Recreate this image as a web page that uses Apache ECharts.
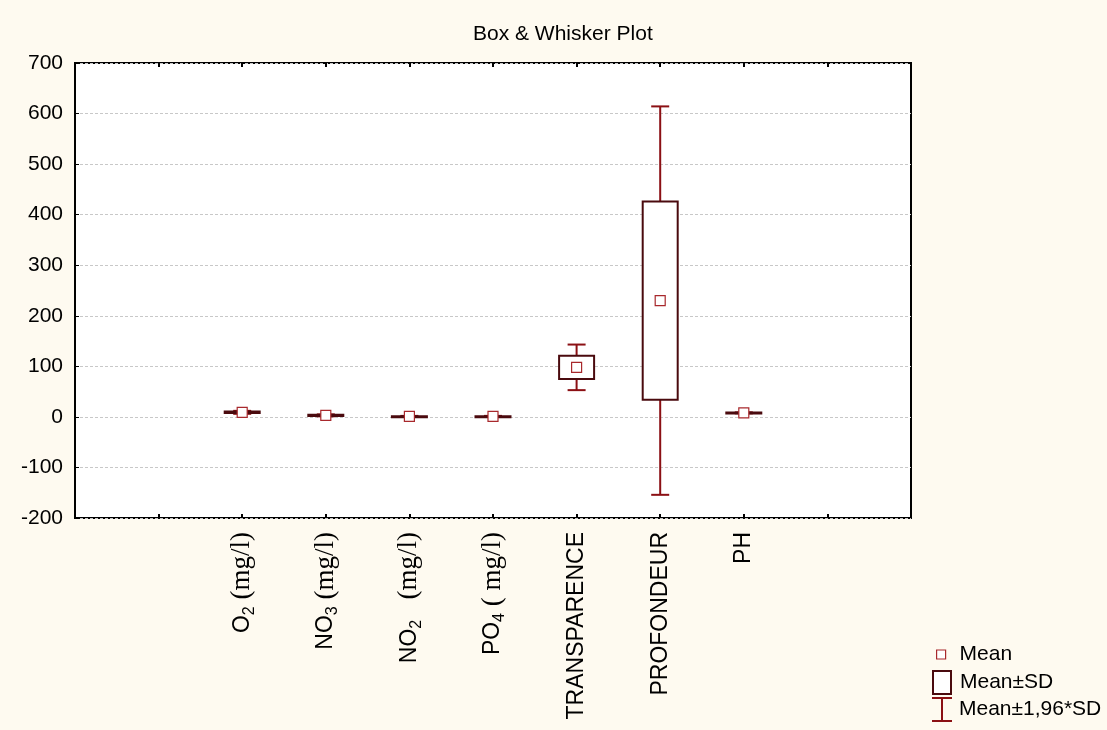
<!DOCTYPE html>
<html>
<head>
<meta charset="utf-8">
<title>Box & Whisker Plot</title>
<script src="https://cdn.jsdelivr.net/npm/echarts@6/dist/echarts.min.js"></script>
<style>
  html, body { margin: 0; padding: 0; background: #fefaf0; }
</style>
</head>
<body>
<div id="BoxWhisker" style="width: 1107px; height: 730px;"></div>
<script>
// variables, placed on the x axis at positions 2..8 (axis runs 0..10)
const positions = [2, 3, 4, 5, 6, 7, 8];
const xLabels = [
    '{m|O}{s|2}{t| (mg/l)}',
    '{m|NO}{s|3}{t| (mg/l)}',
    '{m|NO}{s|2}{t|   (mg/l)}',
    '{m|PO}{s|4}{t| ( mg/l)}',
    '{m|TRANSPARENCE}',
    '{m|PROFONDEUR}',
    '{m|PH}'
];
const means = [9, 3, 1, 1, 98, 230, 8];
const sds = [1.5, 1, 0.5, 0.5, 23, 196, 0.5];
const yMin = -200;
const yMax = 700;
const yStep = 100;
const k = 1.96;

const boxColor = '#4a0a0e';
const whiskerColor = '#8b1014';
const meanColor = '#a8282c';

const rows = positions.map((x, i) => [x, means[i], sds[i]]);

function renderWhisker(params, api) {
    const x = api.value(0), m = api.value(1), sd = api.value(2);
    const top = api.coord([x, m + k * sd]);
    const bot = api.coord([x, m - k * sd]);
    const hw = 9;
    const style = { stroke: whiskerColor, lineWidth: 2 };
    return {
        type: 'group',
        children: [
            { type: 'line', shape: { x1: top[0], y1: top[1], x2: bot[0], y2: bot[1] }, style: style },
            { type: 'line', shape: { x1: top[0] - hw, y1: top[1], x2: top[0] + hw, y2: top[1] }, style: style },
            { type: 'line', shape: { x1: bot[0] - hw, y1: bot[1], x2: bot[0] + hw, y2: bot[1] }, style: style }
        ]
    };
}

function renderBox(params, api) {
    const x = api.value(0), m = api.value(1), sd = api.value(2);
    const top = api.coord([x, m + sd]);
    const bot = api.coord([x, m - sd]);
    const w = 35;
    return {
        type: 'rect',
        shape: { x: top[0] - w / 2, y: top[1], width: w, height: Math.max(bot[1] - top[1], 1) },
        style: { fill: '#fff', stroke: boxColor, lineWidth: 2 }
    };
}

const whiskerIcon = 'path://M0,0H20V2H11V23H20V25H0V23H9V2H0Z';
const legendText = { fontFamily: 'Liberation Sans', fontSize: 21, color: '#000' };

const option = {
    backgroundColor: '#fefaf0',
    animation: false,
    title: {
        text: 'Box & Whisker Plot',
        left: 468,
        top: 19,
        textStyle: { fontFamily: 'Liberation Sans', fontSize: 21, fontWeight: 'normal', color: '#000' }
    },
    grid: {
        left: 75, right: 196, top: 63, bottom: 212,
        show: true, backgroundColor: '#fff', borderColor: '#000', borderWidth: 2
    },
    legend: [
        {
            data: ['Mean'], left: 936, top: 644, padding: 0, selectedMode: false,
            icon: 'rect', itemWidth: 9, itemHeight: 9,
            itemStyle: { color: '#fff', borderColor: meanColor, borderWidth: 1.2 },
            textStyle: Object.assign({ padding: [0, 0, 0, 9] }, legendText)
        },
        {
            data: ['Mean±SD'], left: 932, top: 670, padding: 0, selectedMode: false,
            icon: 'rect', itemWidth: 18, itemHeight: 23,
            itemStyle: { color: '#fff', borderColor: boxColor, borderWidth: 2 },
            textStyle: Object.assign({ padding: [0, 0, 0, 4] }, legendText)
        },
        {
            data: ['Mean±1,96*SD'], left: 932, top: 697, padding: 0, selectedMode: false,
            icon: whiskerIcon, itemWidth: 20, itemHeight: 25,
            itemStyle: { color: whiskerColor, borderWidth: 0 },
            textStyle: Object.assign({ padding: [0, 0, 0, 2] }, legendText)
        }
    ],
    xAxis: [
        {
            type: 'value', min: 0, max: 10, interval: 1, position: 'bottom',
            axisLine: { show: false, onZero: false },
            axisTick: { show: true, inside: true, length: 4, lineStyle: { color: '#000', width: 2 } },
            splitLine: { show: false },
            axisLabel: {
                rotate: 90, margin: 14, showMinLabel: true, showMaxLabel: true,
                formatter: function (v) {
                    const i = positions.indexOf(v);
                    return i < 0 ? '' : xLabels[i];
                },
                rich: {
                    m: { fontFamily: 'Liberation Sans', fontSize: 23, color: '#000', lineHeight: 30 },
                    s: { fontFamily: 'Liberation Sans', fontSize: 16, color: '#000', verticalAlign: 'bottom' },
                    t: { fontFamily: 'Liberation Serif', fontSize: 27, color: '#000', lineHeight: 30 }
                }
            }
        },
        {
            type: 'value', min: 0, max: 10, interval: 1, position: 'top',
            axisLine: { show: false, onZero: false },
            axisTick: { show: true, inside: true, length: 4, lineStyle: { color: '#000', width: 2 } },
            splitLine: { show: false },
            axisLabel: { show: false }
        }
    ],
    yAxis: {
        type: 'value', min: yMin, max: yMax, interval: yStep,
        axisLine: { show: false, onZero: false },
        axisTick: { show: true, inside: true, length: 4, lineStyle: { color: '#000', width: 1 } },
        splitLine: { show: true, lineStyle: { color: '#c8c8c8', width: 1, type: [3, 2] } },
        axisLabel: { fontFamily: 'Liberation Sans', fontSize: 21, color: '#000', margin: 12 }
    },
    series: [
        {
            name: 'Mean±1,96*SD',
            type: 'custom',
            renderItem: renderWhisker,
            data: rows,
            z: 2
        },
        {
            name: 'Mean±SD',
            type: 'custom',
            renderItem: renderBox,
            data: rows,
            z: 3
        },
        {
            name: 'Mean',
            type: 'scatter',
            symbol: 'rect',
            symbolSize: 10,
            itemStyle: { color: '#fff', borderColor: meanColor, borderWidth: 1.2, opacity: 1 },
            data: positions.map((x, i) => [x, means[i]]),
            z: 4
        }
    ]
};

const myChart = echarts.init(document.getElementById('BoxWhisker'));
myChart.setOption(option);

// 自适应
window.onresize = function () {
    myChart.resize();
};
</script>
</body>
</html>
